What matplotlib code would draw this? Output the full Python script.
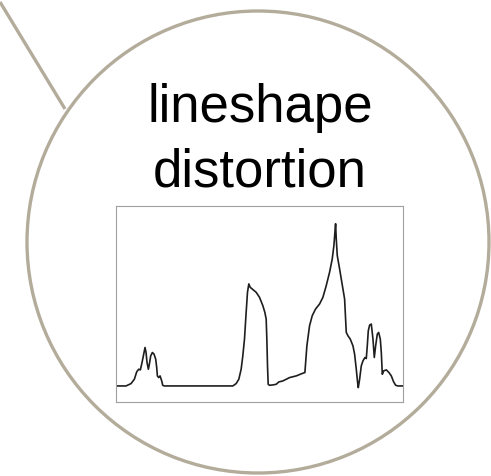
import numpy as np
import matplotlib.pyplot as plt
from matplotlib.patches import Circle

# spectrum trace, x across the frame, y above the flat baseline
spec_x = [0, 30, 45, 55, 62, 68, 73, 78, 82, 87, 90, 93, 97, 100, 104, 109, 114,
          119, 122, 124, 128, 132, 137, 140, 145, 350, 360, 368, 375, 380, 385,
          390, 394, 398, 402, 408, 420, 430, 440, 446, 450, 452, 454, 456, 460,
          470, 480, 488, 500, 510, 520, 540, 560, 566, 572, 580, 588, 598, 610,
          620, 630, 640, 648, 653, 656, 658, 660, 663, 670, 680, 685, 690, 695,
          702, 710, 715, 720, 724, 726, 730, 735, 740, 746, 750, 753, 756, 760,
          765, 770, 774, 778, 783, 787, 792, 795, 798, 802, 810, 818, 825, 832,
          838, 845, 860]
spec_y = [0, 0, 7, 20, 42, 50, 48, 70, 90, 115, 100, 70, 50, 65, 90, 100, 95,
          80, 55, 30, 25, 30, 15, 2, 0, 0, 7, 20, 50, 90, 140, 220, 280, 305,
          295, 290, 280, 265, 240, 220, 200, 140, 60, 5, 2, 3, 5, 12, 15, 20,
          25, 30, 38, 40, 120, 180, 210, 230, 245, 265, 300, 340, 380, 420,
          460, 485, 440, 390, 350, 290, 260, 160, 150, 140, 120, 95, 50, 10,
          -5, 20, 60, 75, 85, 82, 120, 165, 182, 185, 140, 85, 120, 155, 160,
          140, 100, 35, 45, 48, 40, 30, 12, 2, 0, 0]

title_lines = ["lineshape", "distortion"]

W, H = 491, 477
fig = plt.figure(figsize=(W / 100, H / 100), dpi=100)

# background layer in pixel units for the callout ring and its pointer
bg = fig.add_axes([0, 0, 1, 1])
bg.set_xlim(0, W)
bg.set_ylim(H, 0)
bg.axis("off")
ring_color = "#b3ac9b"
bg.add_patch(Circle((258, 243), 231, fill=False, edgecolor=ring_color, lw=2.4))
bg.plot([0, 65], [3, 110], color=ring_color, lw=2.4, solid_capstyle="butt")

for text, base in zip(title_lines, [122, 187]):
    bg.text(260, base, text, ha="center", va="baseline", fontsize=38,
            family="Liberation Sans", color="black")

# inset spectrum
ax = fig.add_axes([116 / W, (H - 403) / H, 287 / W, 196 / H])
ax.plot(spec_x, spec_y, color="#1e1e1e", lw=1.2)
ax.set_xlim(0, 860)
ax.set_ylim(-48, 538)
ax.set_xticks([])
ax.set_yticks([])
for sp in ax.spines.values():
    sp.set_color("#a0a0a0")
    sp.set_linewidth(0.8)

fig.savefig("out.png", dpi=100)
